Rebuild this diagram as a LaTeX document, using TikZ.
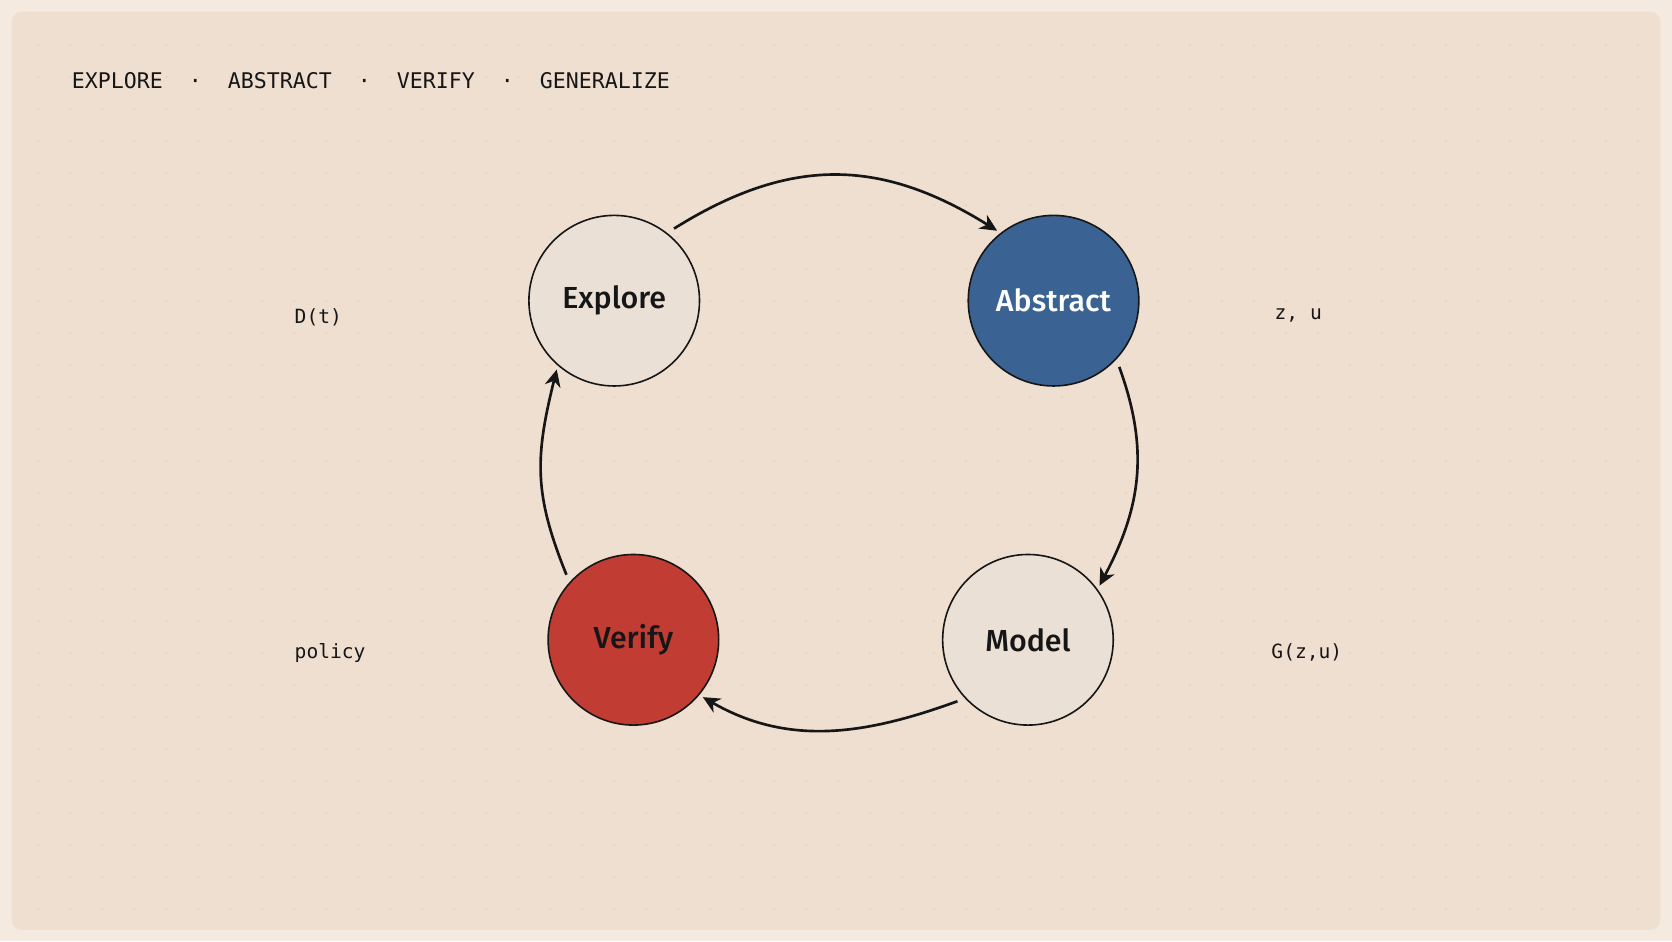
\documentclass[tikz,border=0pt]{standalone}
\usepackage{fontspec}
\usetikzlibrary{arrows.meta}
\newfontfamily\nodefont{Fira Sans}[UprightFont=* Medium]
\newfontfamily\monofont{DejaVu Sans Mono}
\definecolor{pagebg}{HTML}{F5EADF}
\definecolor{panelbg}{HTML}{EFDFD0}
\definecolor{dotcol}{HTML}{E7D5C4}
\definecolor{inkcol}{HTML}{161616}
\definecolor{stagelight}{HTML}{EAE0D5}
\definecolor{abstractblue}{HTML}{3A6293}
\definecolor{verifyred}{HTML}{C13C33}
\newcommand{\stagelabel}[1]{\nodefont\fontsize{15.2}{18}\selectfont #1}

\begin{document}
\begin{tikzpicture}[x = 0.5332pt, y = 0.5332pt, stage/.style = {circle, draw = inkcol, line width = 0.8pt, minimum size = 85.3pt, inner sep = 0pt, fill = stagelight, text = inkcol}, tag/.style = {anchor = west, inner sep = 0pt, text = inkcol, font = \monofont\fontsize{9.8}{12}\selectfont}]
	\useasboundingbox (0, 0) rectangle (1568, 882.5);
	\fill[pagebg] (0, 0) rectangle (1568, 882.5);
	\fill[panelbg, rounded corners = 5pt] (11, 10.5) rectangle (1557, 871.5);
	\foreach \x in {36, 66, ..., 1540}
		\foreach \y in {30, 60, ..., 860}
			\fill[dotcol] (\x, \y) circle (1.2);

	\node (title) at (67, 799.5) [anchor = base west, inner sep = 0pt, text = inkcol, font = \monofont\fontsize{10.8}{13}\selectfont] {EXPLORE~~·~~ABSTRACT~~·~~VERIFY~~·~~GENERALIZE};

	\node (E) at (576, 600.5) [stage] {\stagelabel{Explore}};
	\node (A) at (988, 600.5) [stage, fill = abstractblue, text = white!93!stagelight] {\stagelabel{Abstract}};
	\node (M) at (964, 282.5) [stage] {\stagelabel{Model}};
	\node (V) at (594, 282.5) [stage, fill = verifyred] {\stagelabel{Verify}};

	\node (dt) at (276, 584.5) [tag] {D(t)};
	\node (zu) at (1195, 586.5) [tag] {z, u};
	\node (pol) at (276, 270.5) [tag] {policy};
	\node (gzu) at (1192, 270.5) [tag] {G(z,u)};

	\foreach \from/\fromAngle/\outAngle/\inAngle/\toAngle/\loose/\to in {E/52/32/148/128/1.1/A, A/-43/-70/62/36/1.05/M, M/-137/200/-30/-40/1/V, V/138/112/-104/-131/1.12/E}
		\draw[inkcol, line width = 1.33pt, -{Stealth[length = 8.5pt, width = 8pt, inset = 2.7pt]}, shorten <= 4pt, shorten >= 2pt] (\from.\fromAngle) to [out = \outAngle, in = \inAngle, looseness = \loose] (\to.\toAngle);
\end{tikzpicture}
\end{document}
